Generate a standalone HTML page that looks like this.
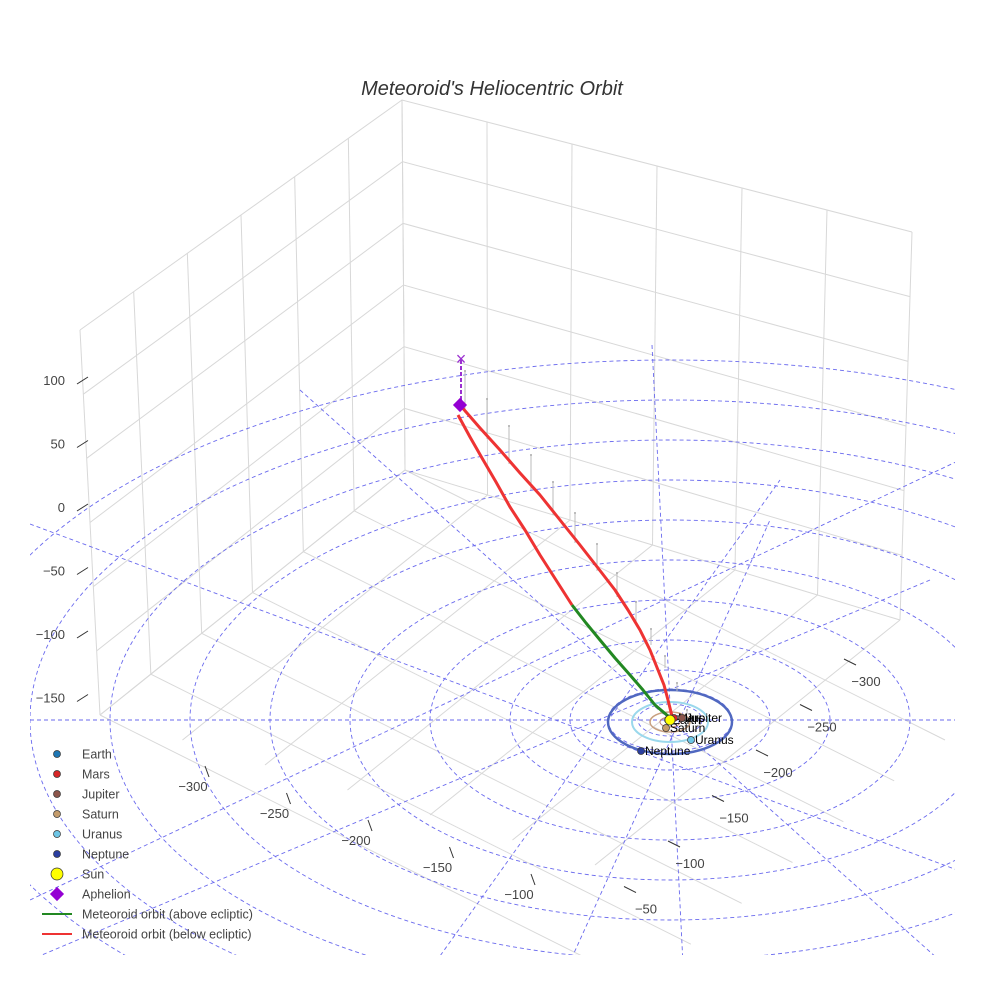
<!DOCTYPE html>
<html><head><meta charset="utf-8"><style>
html,body{margin:0;background:#fff;font-family:"Liberation Sans",sans-serif;width:984px;height:984px;overflow:hidden}
svg{display:block}
svg text{font-family:"Liberation Sans",sans-serif}
</style></head><body>
<svg id="c" width="984" height="984" viewBox="0 0 984 984">
<defs><clipPath id="sc"><rect x="30" y="0" width="925" height="955"/></clipPath></defs>
<text x="492" y="95" text-anchor="middle" font-size="20" font-style="italic" fill="#333">Meteoroid's Heliocentric Orbit</text>
<g id="grid" clip-path="url(#sc)"></g>
<g id="ecl" clip-path="url(#sc)"></g>
<g id="orb"></g>
<g id="pl"></g>
<g id="ax"></g>
<g id="lg"></g>
</svg>
<script>
const zTicks=["100","50","0","−50","−100","−150"];
const zTickY=[100,50,0,-50,-100,-150];
const xTicks=["−300","−250","−200","−150","−100"];
const yTicks=["−300","−250","−200","−150","−100","−50"];
const ringR=[32,62,100,160,240,320,400,480,560,640,720];
const orbitA=[[-212,-305],[-200,-283],[-188,-262],[-174,-238],[-160,-213],[-145,-190],[-130,-165],[-114,-140],[-98,-115],[-84,-97],[-70,-80],[-55,-62],[-40,-45],[-27,-30],[-15,-15],[-2,-4]];
const orbitB=[[-210,-315],[-190,-292],[-170,-270],[-150,-247],[-130,-225],[-110,-200],[-90,-175],[-72,-152],[-55,-130],[-42,-110],[-30,-90],[-20,-70],[-12,-50],[-6,-35],[-2,-20],[2,-4]];
const stemLen=[42,40,38,35,33,30,27,24,20,16,12,8,4,2,0,0];
const planetNames=["Earth","Mars","Jupiter","Saturn","Uranus","Neptune","Sun"];
const planetPos=[[-2,0],[4,-2],[12,-2],[-4,8],[21,20],[-29,31],[0,0]];
const planetColor=["#1f77b4","#d62728","#8c564b","#c49c6c","#6ec6e6","#2b3fa0","#ffff00"];
const NS="http://www.w3.org/2000/svg";
const CX=670,CY=720;
function sx(x){return CX+x} function sy(y){return CY+y}
function zy(z){return 507-z*1.27}
function el(t,a,p){const e=document.createElementNS(NS,t);for(const k in a)e.setAttribute(k,a[k]);p.appendChild(e);return e}
const g=document.getElementById('grid');
function lerp(a,b,t){return [a[0]+(b[0]-a[0])*t,a[1]+(b[1]-a[1])*t]}
const A=[80,330],B=[402,100],C=[912,232],Ab=[100,715],Bb=[405,470],Cb=[900,620],Db=[640,985];
for(let i=0;i<=6;i++){const t=i/6;const p=lerp(A,B,t),q=lerp(Ab,Bb,t);const l=el('line',{x1:p[0],y1:p[1],x2:q[0],y2:q[1],stroke:'#d8d8d8'},g);}
for(let i=0;i<=6;i++){const t=i/6;const p=lerp(B,C,t),q=lerp(Bb,Cb,t);const l=el('line',{x1:p[0],y1:p[1],x2:q[0],y2:q[1],stroke:'#d8d8d8'},g);}
for(let i=0;i<=6;i++){const t=i/6;const p=lerp(A,Ab,t),q=lerp(B,Bb,t),r=lerp(C,Cb,t);const l=el('polyline',{points:`${p} ${q} ${r}`,fill:'none',stroke:'#d8d8d8'},g);}
for(let i=0;i<=6;i++){const t=i/6;const p=lerp(Ab,Bb,t);const e=[p[0]+(Db[0]-Ab[0]),p[1]+(Db[1]-Ab[1])];const l=el('line',{x1:p[0],y1:p[1],x2:e[0],y2:e[1],stroke:'#d8d8d8'},g);}
for(let i=0;i<=6;i++){const t=i/6;const p=lerp(Bb,Cb,t);const e=[p[0]-(Bb[0]-Ab[0]),p[1]-(Bb[1]-Ab[1])];const l=el('line',{x1:p[0],y1:p[1],x2:e[0],y2:e[1],stroke:'#d8d8d8'},g);}
const ec=document.getElementById('ecl');
ringR.forEach((r,i)=>{const e=el('ellipse',{cx:CX,cy:CY,rx:r,ry:r*0.5,fill:'none',stroke:'#6a6aee','stroke-width':0.9,'stroke-dasharray':'4,3'},ec);});
[[30,720,984,720],[652,345,684,984],[300,390,984,1000],[30,524,984,880],[30,900,960,460],[420,984,780,480],[30,960,930,580],[560,984,770,520]].forEach(s=>{const l=el('line',{x1:s[0],y1:s[1],x2:s[2],y2:s[3],stroke:'#6a6aee','stroke-width':0.9,'stroke-dasharray':'4,3'},ec);});
[[62,32,'#5068c0',2.5],[38,20,'#9ad8ec',2],[20,10,'#c8a080',1.5],[10,5,'#c08070',1]].forEach(o=>{const e=el('ellipse',{cx:CX,cy:CY+2,rx:o[0],ry:o[1],fill:'none',stroke:o[2],'stroke-width':o[3]},ec);});
const og=document.getElementById('orb');
orbitB.forEach((p,i)=>{if(stemLen[i]>0){const x=sx(p[0])+5+i*2,y=sy(p[1])+8+i*3;const l=el('line',{x1:x,y1:y,x2:x,y2:y-stemLen[i],stroke:'#bbb','stroke-width':1},og);
const d=el('circle',{cx:x,cy:y-stemLen[i],r:1,fill:'#aaa'},og);}});
function pts(a){return a.map(p=>sx(p[0])+','+sy(p[1])).join(' ')}
let l=el('polyline',{points:pts(orbitA.slice(0,9)),fill:'none',stroke:'#ee3333','stroke-width':3,'stroke-linejoin':'round'},og);
l=el('polyline',{points:pts(orbitA.slice(8)),fill:'none',stroke:'#228822','stroke-width':3,'stroke-linejoin':'round'},og);
l=el('polyline',{points:pts(orbitB),fill:'none',stroke:'#ee3333','stroke-width':3,'stroke-linejoin':'round'},og);
const ap=orbitB[0];
l=el('line',{x1:sx(ap[0])+1,y1:sy(ap[1])-45,x2:sx(ap[0])+1,y2:sy(ap[1]),stroke:'#9b30d0','stroke-width':2,'stroke-dasharray':'4,2'},og);
l=el('text',{x:sx(ap[0])+1,y:sy(ap[1])-40,'text-anchor':'middle','font-size':18,fill:'#9b30d0'},og);l.textContent='×';
l=el('rect',{x:sx(ap[0])-5,y:sy(ap[1])-5,width:10,height:10,fill:'#9400d3',transform:`rotate(45 ${sx(ap[0])} ${sy(ap[1])})`},og);
const pg=document.getElementById('pl');
planetNames.forEach((n,i)=>{const p=planetPos[i];const c=el('circle',{cx:sx(p[0]),cy:sy(p[1]),r:n==='Sun'?5:3.5,fill:planetColor[i],stroke:'#333','stroke-width':0.7},pg);
if(n!=='Sun'){const t=el('text',{x:sx(p[0])+4,y:sy(p[1])+4,'font-size':12,fill:'#000'},pg);t.textContent=n;}});
const ax=document.getElementById('ax');
zTicks.forEach((t,i)=>{const y=zy(zTickY[i]);const tx=el('text',{x:65,y:y+5,'text-anchor':'end','font-size':13,fill:'#444'},ax);tx.textContent=t;
const m=el('line',{x1:77,y1:y+4,x2:88,y2:y-3,stroke:'#333'},ax);});
xTicks.forEach((t,i)=>{const x=193+i*81.5,y=791+i*27;const tx=el('text',{x:x,y:y,'text-anchor':'middle','font-size':13,fill:'#444'},ax);tx.textContent=t;
const m=el('line',{x1:x+12,y1:y-25,x2:x+16,y2:y-14,stroke:'#333'},ax);});
yTicks.forEach((t,i)=>{const x=866-i*44,y=686+i*45.5;const tx=el('text',{x:x,y:y,'text-anchor':'middle','font-size':13,fill:'#444'},ax);tx.textContent=t;
const m=el('line',{x1:x-22,y1:y-27,x2:x-10,y2:y-21,stroke:'#333'},ax);});
const lg=document.getElementById('lg');
const legNames=["Earth","Mars","Jupiter","Saturn","Uranus","Neptune","Sun","Aphelion","Meteoroid orbit (above ecliptic)","Meteoroid orbit (below ecliptic)"];
legNames.forEach((n,i)=>{const y=754+i*20;let m;
if(i<7){m=el('circle',{cx:57,cy:y,r:i===6?6:3.5,fill:planetColor[i],stroke:'#333','stroke-width':0.7},lg);}
else if(i===7){m=el('rect',{x:52,y:y-5,width:10,height:10,fill:'#9400d3',transform:`rotate(45 57 ${y})`},lg);}
else{m=el('line',{x1:42,y1:y,x2:72,y2:y,stroke:i===8?'#228822':'#ee3333','stroke-width':2},lg);}

const t=el('text',{x:82,y:y+4.5,'font-size':12.5,fill:'#444'},lg);t.textContent=n;});
</script>
</body></html>
